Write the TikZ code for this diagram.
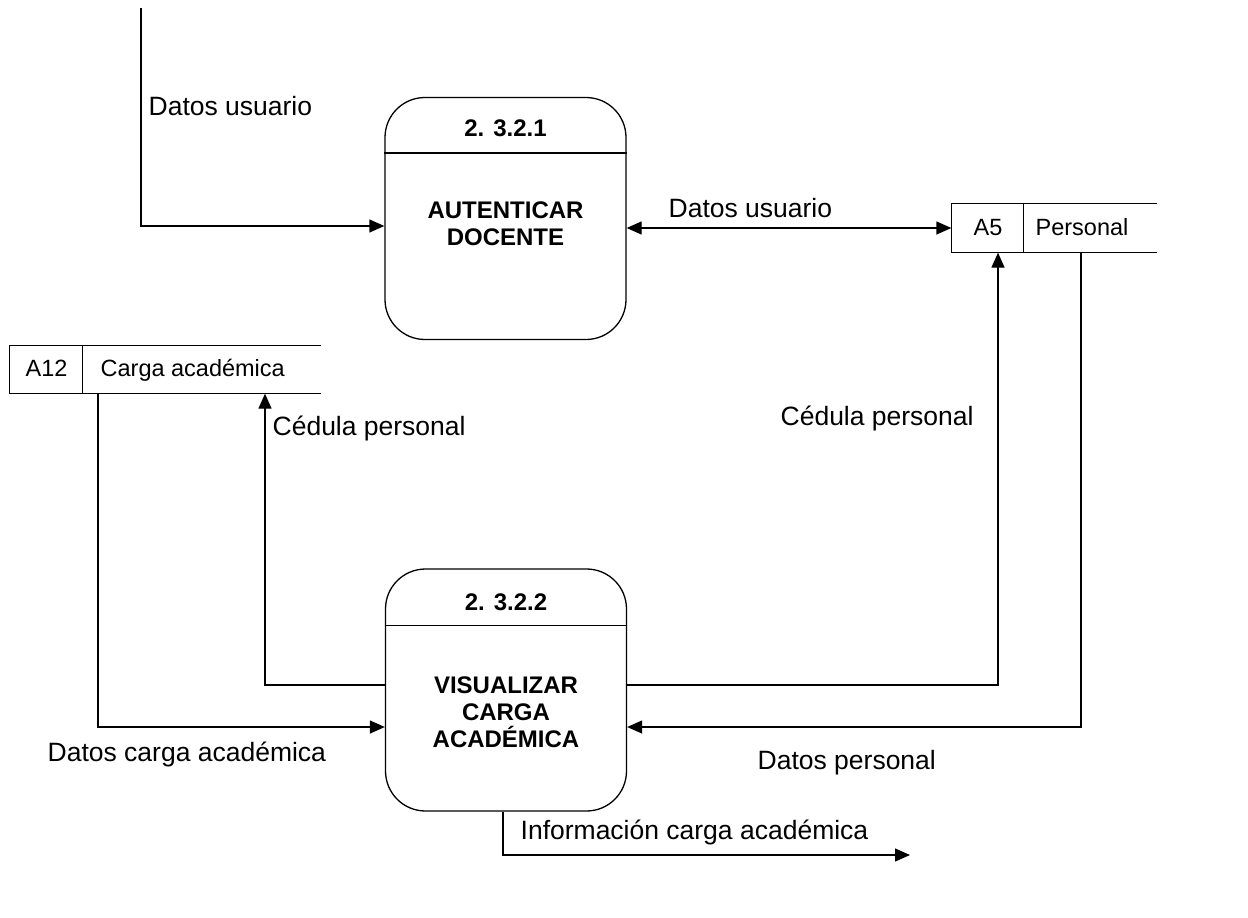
\documentclass[tikz,border=0pt]{standalone}
\usepackage{fontspec}
\setmainfont{Liberation Sans}
\usetikzlibrary{arrows.meta,calc}
\begin{document}
\begin{tikzpicture}[x=1pt,y=-1pt,
  line width=1.3pt,
  arr/.style={-{Triangle[length=15pt,width=13pt]}},
  arrb/.style={{Triangle[length=15pt,width=13pt]}-{Triangle[length=15pt,width=13pt]}},
  proc/.style={draw,rounded corners=40pt,minimum width=241pt,minimum height=242pt,inner sep=0pt},
  store/.style={inner sep=0pt,minimum height=48pt},
  lbl/.style={font=\fontsize{26.5}{30}\selectfont,inner sep=0pt,anchor=west},
  slbl/.style={font=\fontsize{23.5}{28}\selectfont,inner sep=0pt,text height=17pt,text depth=5pt},
  ptitle/.style={font=\fontsize{24}{27}\selectfont\bfseries,inner sep=0pt,align=center}]
\useasboundingbox (0,0) rectangle (1248,918);
% processes
\node[proc] (p1) at (505.5,218.5) {};
\draw ($(p1.north west)+(0,56)$) -- ($(p1.north east)+(0,56)$);
\node[ptitle] (p1id) at (505.5,128) {2. 3.2.1};
\node[ptitle] (p1t) at (505.5,224) {AUTENTICAR\\DOCENTE};
\node[proc] (p2) at (506,690) {};
\draw ($(p2.north west)+(0,57)$) -- ($(p2.north east)+(0,57)$);
\node[ptitle] (p2id) at (506,602) {2. 3.2.2};
\node[ptitle] (p2t) at (506,712) {VISUALIZAR\\CARGA\\ACADÉMICA};
% stores
\node[store,minimum width=204pt] (s5) at (1054,228) {};
\draw (s5.north east) -- (s5.north west) -- (s5.south west) -- (s5.south east);
\draw ($(s5.north west)+(72,0)$) -- ($(s5.south west)+(72,0)$);
\node[slbl] (s5id) at (988,229) {A5};
\node[slbl,anchor=west] (s5n) at (1035,229) {Personal};
\node[store,minimum width=310pt,minimum height=47pt] (s12) at (165,369.5) {};
\draw (s12.north east) -- (s12.north west) -- (s12.south west) -- (s12.south east);
\draw ($(s12.north west)+(73,0)$) -- ($(s12.south west)+(73,0)$);
\node[slbl] (s12id) at (46.5,370.5) {A12};
\node[slbl,anchor=west] (s12n) at (100,370.5) {Carga académica};
% connectors
\coordinate (in1) at (141,8);
\draw[arr] (in1) |- ([yshift=-7.5pt]p1.west);
\draw[arrb] (s5.west -| p1.east) -- (s5.west);
\draw[arr] ([yshift=5pt]p2.west) -| ([xshift=100pt]s12.south);
\draw[arr] ([xshift=-67pt]s12.south) |- ([yshift=-37pt]p2.west);
\draw[arr] ([yshift=5pt]p2.east) -| ([xshift=-56pt]s5.south);
\draw[arr] ([xshift=27pt]s5.south) |- ([yshift=-37pt]p2.east);
\coordinate (out1) at (910,855);
\draw[arr] ([xshift=-3pt]p2.south) |- (out1);
% labels
\node[lbl] (l1) at (148,106) {Datos usuario};
\node[lbl] (l2) at (668,208) {Datos usuario};
\node[lbl] (l3) at (780,418) {Cédula personal};
\node[lbl] (l4) at (272,428) {Cédula personal};
\node[lbl] (l5) at (47,754) {Datos carga académica};
\node[lbl] (l6) at (757,763) {Datos personal};
\node[lbl] (l7) at (520,832) {Información carga académica};
\end{tikzpicture}
\end{document}
